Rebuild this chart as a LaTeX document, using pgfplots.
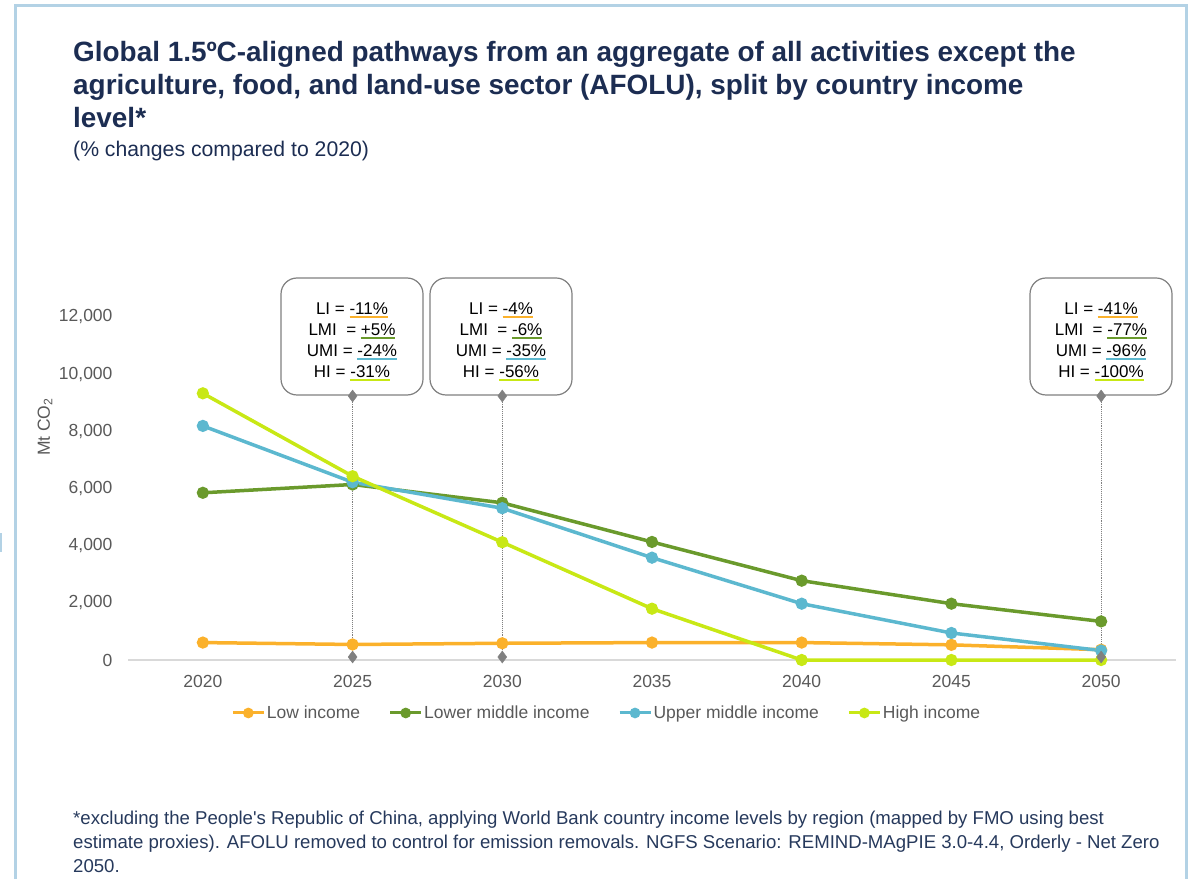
\documentclass[border=0pt]{standalone}
\usepackage{pgfplots}
\pgfplotsset{compat=1.18}
\usepackage{fontspec}
\setmainfont{Liberation Sans}
\definecolor{li}{HTML}{FBB12B}
\definecolor{lmi}{HTML}{6A9A2C}
\definecolor{umi}{HTML}{5CB8CF}
\definecolor{hi}{HTML}{C8E815}
\definecolor{ttl}{HTML}{1C2D52}
\definecolor{foot}{HTML}{26395C}
\definecolor{tk}{HTML}{595959}
\definecolor{frm}{HTML}{B3D2E5}
\definecolor{callout}{HTML}{808080}
\newcommand\cul[2]{\setbox0\hbox{#2}\rlap{\color{#1}\rule[-3.5pt]{\wd0}{2.2pt}}\box0}
\begin{document}
\begin{tikzpicture}[x=1pt,y=1pt]
\path[use as bounding box] (0,0) rectangle (1191,879);
\draw[frm, line width=3pt] (15.5,0) -- (15.5,873) -- (1186,873) -- (1186,0);
\draw[frm, line width=2pt] (1,327) -- (1,346);
% title
\node[anchor=base west, inner sep=0pt, text=ttl, font=\fontsize{27.9}{33}\selectfont\bfseries] at (73,817) {Global 1.5ºC-aligned pathways from an aggregate of all activities except the};
\node[anchor=base west, inner sep=0pt, text=ttl, font=\fontsize{27.9}{33}\selectfont\bfseries] at (73,784) {agriculture, food, and land-use sector (AFOLU), split by country income};
\node[anchor=base west, inner sep=0pt, text=ttl, font=\fontsize{27.9}{33}\selectfont\bfseries] at (73,751) {level*};
\node[anchor=base west, inner sep=0pt, text=ttl, font=\fontsize{21.2}{25}\selectfont] at (73,722) {(\% changes compared to 2020)};
% y label
\node[rotate=90, text=tk, font=\fontsize{17.5}{19}\selectfont, inner sep=0pt] at (45,452) {Mt CO\textsubscript{2}};
% callout boxes
\foreach \xa/\xb in {281/423, 430/572, 1030/1172}{
  \draw[callout, line width=1.2pt, fill=white, rounded corners=16pt] (\xa,484) rectangle (\xb,601);
}
\node[align=center, font=\fontsize{17}{21}\selectfont, inner sep=0pt] at (352,537) {LI = \cul{li}{-11\%}\\LMI\ \ = \cul{lmi}{+5\%}\\UMI = \cul{umi}{-24\%}\\HI = \cul{hi}{-31\%}};
\node[align=center, font=\fontsize{17}{21}\selectfont, inner sep=0pt] at (501,537) {LI = \cul{li}{-4\%}\\LMI\ \ = \cul{lmi}{-6\%}\\UMI = \cul{umi}{-35\%}\\HI = \cul{hi}{-56\%}};
\node[align=center, font=\fontsize{17}{21}\selectfont, inner sep=0pt] at (1101,537) {LI = \cul{li}{-41\%}\\LMI\ \ = \cul{lmi}{-77\%}\\UMI = \cul{umi}{-96\%}\\HI = \cul{hi}{-100\%}};
\begin{axis}[
  at={(128pt,219pt)}, anchor=south west,
  scale only axis, width=1048pt, height=343pt,
  xmin=2017.5, xmax=2052.5, ymin=0, ymax=12000,
  axis lines*=left, axis line style={-},
  x axis line style={draw=black!15, line width=1.5pt},
  y axis line style={draw=none},
  major tick length=0pt, tick style={draw=none},
  xtick={2020,2025,...,2050}, ytick={0,2000,...,12000},
  scaled y ticks=false,
  ticklabel style={font=\fontsize{17.5}{20}\selectfont, text=tk},
  /pgf/number format/assume math mode=true,
  yticklabel style={/pgf/number format/fixed, /pgf/number format/1000 sep={,}, xshift=-12pt},
  xticklabel style={/pgf/number format/1000 sep={}, yshift=-12pt},
  clip=false,
  legend columns=4,
  legend style={at={(0.4566,-0.1545)}, anchor=center, draw=none, fill=none,
    font=\fontsize{17.5}{20}\selectfont, text=tk, inner sep=0pt,
    /tikz/every even column/.append style={column sep=27pt},
    nodes={inner sep=1.5pt}},
  legend image code/.code={\draw[#1, line width=3pt] (0pt,0pt) -- (31pt,0pt); \fill[#1] (15.5pt,0pt) circle (3.5pt);},
]
\addplot[forget plot, callout, densely dotted, line width=0.9pt] coordinates {(2025,9236) (2025,105)};
\addplot[forget plot, callout, densely dotted, line width=0.9pt] coordinates {(2030,9236) (2030,105)};
\addplot[forget plot, callout, densely dotted, line width=0.9pt] coordinates {(2050,9236) (2050,105)};
\addplot[forget plot, only marks, callout, mark=diamond*, mark size=6pt] coordinates {(2025,9236) (2025,105) (2030,9236) (2030,105) (2050,9236)};
\addplot[li, line width=3.5pt, mark=*, mark size=4.3pt] coordinates {(2020,610) (2025,543) (2030,585) (2035,610) (2040,610) (2045,530) (2050,360)};
\addplot[lmi, line width=3.5pt, mark=*, mark size=4.3pt] coordinates {(2020,5850) (2025,6140) (2030,5500) (2035,4130) (2040,2775) (2045,1970) (2050,1350)};
\addplot[umi, line width=3.5pt, mark=*, mark size=4.3pt] coordinates {(2020,8190) (2025,6220) (2030,5310) (2035,3580) (2040,1970) (2045,945) (2050,330)};
\addplot[hi, line width=3.5pt, mark=*, mark size=4.3pt] coordinates {(2020,9330) (2025,6430) (2030,4120) (2035,1795) (2040,0) (2045,0) (2050,0)};
\addplot[forget plot, only marks, callout, mark=diamond*, mark size=6pt] coordinates {(2050,105)};
\legend{Low income, Lower middle income, Upper middle income, High income}
\end{axis}
% footnote
\node[anchor=base west, align=left, inner sep=0pt, text=foot, font=\fontsize{18.6}{24}\selectfont] at (73,7) {*excluding the People\textquotesingle s Republic of China, applying World Bank country income levels by region (mapped by FMO using best\\estimate proxies). AFOLU removed to control for emission removals. NGFS Scenario: REMIND-MAgPIE 3.0-4.4, Orderly - Net Zero\\2050.};
\end{tikzpicture}
\end{document}
